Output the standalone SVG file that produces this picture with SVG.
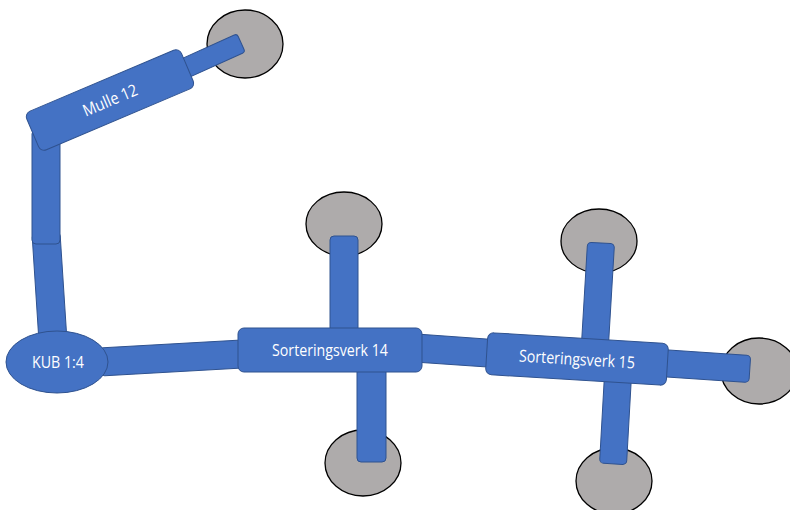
<svg xmlns="http://www.w3.org/2000/svg" width="790" height="510" viewBox="0 0 790 510">
<style>
.bg{fill:#ffffff}
.end{fill:#AEABAB;stroke:#000;stroke-width:1.3}
.bar{fill:#4472C4;stroke:#2F528F;stroke-width:1}
.box{fill:#4472C4;stroke:#2F528F;stroke-width:1}
.lbl{fill:#ffffff;font-family:"Open Sans","Liberation Sans",sans-serif;font-size:16.5px;text-anchor:middle}
</style>
<rect class="bg" x="0" y="0" width="790" height="510"/>
<g id="ends">
  <ellipse id="end-mulle" class="end" cx="245" cy="44" rx="38" ry="34"/>
  <ellipse id="end-s14-top" class="end" cx="344" cy="224" rx="38" ry="32"/>
  <ellipse id="end-s14-bottom" class="end" cx="363" cy="463" rx="38" ry="33"/>
  <ellipse id="end-s15-top" class="end" cx="599" cy="241" rx="38" ry="32"/>
  <ellipse id="end-s15-right" class="end" cx="759" cy="371" rx="38" ry="33"/>
  <ellipse id="end-s15-bottom" class="end" cx="614" cy="481" rx="38" ry="33"/>
</g>
<g id="connectors">
  <rect class="bar" x="330" y="236" width="28" height="100" rx="4"/>
  <rect class="bar" x="357" y="360" width="29" height="102" rx="4"/>
  <rect class="bar" x="587.5" y="243" width="27" height="102" rx="4" transform="rotate(3.4 601 243)"/>
  <rect class="bar" x="604.5" y="375" width="27" height="89" rx="4" transform="rotate(3.2 618 375)"/>
  <rect class="bar" x="660" y="349.5" width="90" height="27" rx="4" transform="rotate(3.8 660 363)"/>
  <rect class="bar" x="415" y="334" width="85" height="28" rx="4" transform="rotate(4 415 348)"/>
  <rect class="bar" x="100" y="348" width="160" height="28" rx="4" transform="rotate(-3.2 100 362)"/>
  <rect class="bar" x="32" y="233" width="28" height="109" rx="4" transform="rotate(-3.7 46 233)"/>
  <rect class="bar" x="32" y="130" width="28" height="114" rx="4"/>
  <rect class="bar" x="170" y="65" width="78" height="20" rx="3" transform="rotate(-24.3 170 75)"/>
</g>
<g id="s15">
  <rect class="box" x="486.5" y="338" width="181" height="42" rx="6" transform="rotate(3.5 577 359)"/>
  <text class="lbl" x="577" y="365" textLength="116" lengthAdjust="spacingAndGlyphs" transform="rotate(3.5 577 359)">Sorteringsverk 15</text>
</g>
<g id="s14">
  <rect class="box" x="238" y="328" width="184" height="44" rx="6"/>
  <text class="lbl" x="330" y="356" textLength="116" lengthAdjust="spacingAndGlyphs">Sorteringsverk 14</text>
</g>
<g id="kub">
  <ellipse class="box" cx="57" cy="362" rx="51" ry="31"/>
  <text class="lbl" x="58" y="368" textLength="52" lengthAdjust="spacingAndGlyphs">KUB 1:4</text>
</g>
<g id="mulle">
  <rect class="box" x="26" y="79" width="168" height="42" rx="6" transform="rotate(-23 110 100)"/>
  <text class="lbl" x="110" y="106" textLength="58" lengthAdjust="spacingAndGlyphs" transform="rotate(-23 110 100)">Mulle 12</text>
</g>
</svg>
